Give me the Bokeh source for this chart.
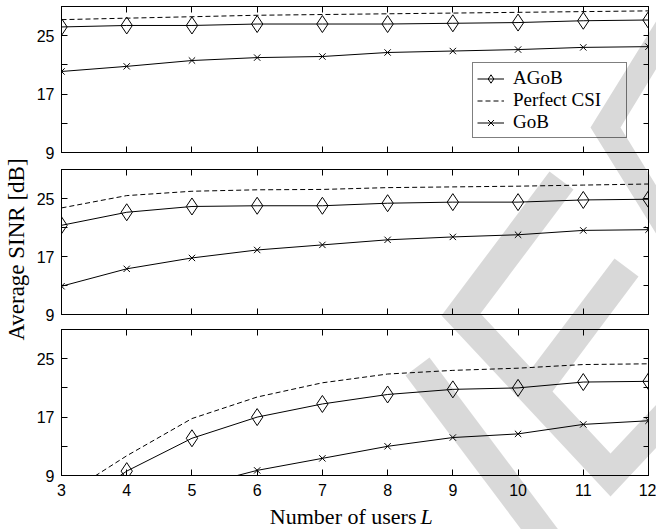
from math import pi

from bokeh.embed import file_html
from bokeh.models import (FixedTicker, GridBox, Label, Legend, LegendItem,
                          LinearAxis, PolyAnnotation, Range1d)
from bokeh.plotting import figure
from bokeh.resources import INLINE

# ---------------------------------------------------------------- data
users = [3, 4, 5, 6, 7, 8, 9, 10, 11, 12]

# top panel
agob_top = [26.2, 26.4, 26.4, 26.6, 26.6, 26.6, 26.7, 26.8, 27.05, 27.15]
csi_top = [27.2, 27.4, 27.6, 27.8, 27.9, 28.0, 28.1, 28.2, 28.3, 28.4]
gob_top = [20.1, 20.8, 21.6, 22.0, 22.15, 22.7, 22.9, 23.1, 23.4, 23.5]

# middle panel
agob_mid = [21.3, 23.1, 23.9, 24.0, 24.0, 24.35, 24.5, 24.5, 24.8, 24.9]
csi_mid = [23.7, 25.4, 26.0, 26.2, 26.25, 26.5, 26.6, 26.7, 26.85, 27.0]
gob_mid = [12.9, 15.3, 16.8, 17.9, 18.6, 19.3, 19.7, 20.0, 20.6, 20.7]

# bottom panel
agob_bot = [3.5, 9.6, 14.1, 17.0, 18.8, 20.1, 20.8, 21.0, 21.8, 21.9]
csi_bot = [6.0, 11.7, 16.8, 19.75, 21.7, 22.9, 23.4, 23.7, 24.2, 24.3]
gob_bot = [3.0, 5.0, 7.4, 9.7, 11.35, 13.0, 14.2, 14.7, 16.0, 16.5]

x_ticks = [3, 4, 5, 6, 7, 8, 9, 10, 11, 12]
y_ticks = [9, 13, 17, 21, 25, 29]
y_tick_labels = {9: "9", 13: "", 17: "17", 21: "", 25: "25", 29: ""}

series_names = ["AGoB", "Perfect CSI", "GoB"]
x_title = "Number of users"
x_title_var = "L"
y_title = "Average SINR [dB]"

# ---------------------------------------------------------------- styling
SANS = "Liberation Sans"
SERIF = "Liberation Serif"
PAGE_W, PAGE_H = 656, 529
SIDE_W = 30                       # strip holding the y title
PANEL_W = PAGE_W - SIDE_W
BORDER_L, BORDER_R = 61 - SIDE_W, 8
TITLE_H = 28                      # strip holding the x title
TITLE_TOP = 501                   # page row where that strip starts

# light grey diagonal strokes laid over the page (page pixel coordinates)
STROKES = [
    [(549, 171), (441, 315), (610, 496), (700, 400), (700, 357), (610, 453),
     (552, 391), (638, 276), (614, 258), (531, 368), (480, 313), (573, 189)],
    [(590, 127), (700, -51), (700, -4), (620, 127), (700, 257), (700, 305)],
    [(405, 375), (429, 357), (566, 540), (529, 540)],
]


def make_axis(ticks, labels, show, tick_len, standoff):
    ax = LinearAxis(
        ticker=FixedTicker(ticks=ticks),
        major_tick_in=tick_len, major_tick_out=0,
        minor_tick_in=0, minor_tick_out=0,
        axis_line_color="black", major_tick_line_color="black",
        major_label_text_font=SANS,
        major_label_text_font_size="16px" if show else "0px",
        major_label_text_color="black" if show else None,
        major_label_standoff=standoff if show else 0,
    )
    if labels is not None:
        ax.major_label_overrides = labels
    return ax


def blank_figure(w, h):
    f = figure(frame_width=w, frame_height=h,
               x_range=Range1d(0, w), y_range=Range1d(h, 0),
               x_axis_location=None, y_axis_location=None, title=None,
               output_backend="svg", toolbar_location=None,
               min_border=0, min_border_left=0, min_border_right=0,
               min_border_top=0, min_border_bottom=0)
    f.grid.visible = False
    f.outline_line_color = None
    return f


def make_panel(agob, csi, gob, top, frame_h, bottom, x_labels):
    p = figure(width=PANEL_W, height=top + frame_h + bottom,
               x_range=Range1d(3, 12), y_range=Range1d(9, 29),
               x_axis_location=None, y_axis_location=None, title=None,
               output_backend="svg", toolbar_location=None,
               min_border_left=BORDER_L, min_border_right=BORDER_R,
               min_border_top=top, min_border_bottom=bottom)
    p.grid.visible = False
    p.outline_line_color = "black"
    p.outline_line_width = 1
    p.background_fill_color = "white"
    p.border_fill_color = "white"

    p.add_layout(make_axis(y_ticks, y_tick_labels, True, 6, 7), "left")
    p.add_layout(make_axis(y_ticks, None, False, 5, 0), "right")
    p.add_layout(make_axis(x_ticks, None, x_labels, 6, 8), "below")
    p.add_layout(make_axis(x_ticks, None, False, 6, 0), "above")

    r_a = p.line(users, agob, line_color="black", line_width=1)
    r_am = p.scatter(users, agob, marker="diamond", size=17,
                     line_color="black", line_width=1, fill_alpha=0)
    r_c = p.line(users, csi, line_color="black", line_width=1,
                 line_dash="5 3")
    r_g = p.line(users, gob, line_color="black", line_width=1)
    r_gm = p.scatter(users, gob, marker="x", size=9,
                     line_color="black", line_width=1)
    return p, [[r_a, r_am], [r_c], [r_g, r_gm]]


p1, items = make_panel(agob_top, csi_top, gob_top, 6, 146, 9, False)
p2, _ = make_panel(agob_mid, csi_mid, gob_mid, 8, 145, 9, False)
p3, _ = make_panel(agob_bot, csi_bot, gob_bot, 6, 146, 26, True)

legend = Legend(
    items=[LegendItem(label=name, renderers=rs)
           for name, rs in zip(series_names, items)],
    location=(411, 14),
    label_text_font=SERIF, label_text_font_size="19px",
    label_text_color="black",
    glyph_width=27, glyph_height=21, label_height=21, label_width=109,
    label_standoff=9, padding=4, spacing=0, margin=0,
    border_line_color="black", border_line_width=1,
    background_fill_color="white", background_fill_alpha=1,
)
p1.add_layout(legend)

# y title strip on the left
side = blank_figure(SIDE_W, PAGE_H)
side.add_layout(Label(x=16, y=249, x_units="canvas", y_units="canvas",
                      text=y_title, angle=pi / 2, text_align="center",
                      text_baseline="middle", text_font=SERIF,
                      text_font_size="23px", text_color="black"))

# x title strip under the bottom panel: upright words, italic variable
foot = blank_figure(PANEL_W, TITLE_H)
title_mid = 516 - TITLE_TOP
foot.add_layout(Label(x=416 - SIDE_W, y=title_mid, x_units="canvas",
                      y_units="canvas", text=x_title, text_align="right",
                      text_baseline="middle", text_font=SERIF,
                      text_font_size="22px", text_color="black"))
foot.add_layout(Label(x=420 - SIDE_W, y=title_mid, x_units="canvas",
                      y_units="canvas", text=x_title_var, text_align="left",
                      text_baseline="middle", text_font_style="italic",
                      text_font=SERIF, text_font_size="22px",
                      text_color="black"))

# transparent sheet over the whole page carrying the grey strokes
sheet = blank_figure(PAGE_W, PAGE_H)
sheet.background_fill_alpha = 0
sheet.border_fill_alpha = 0
for shape in STROKES:
    sheet.add_layout(PolyAnnotation(
        xs=[x for x, _ in shape], ys=[y for _, y in shape],
        xs_units="canvas", ys_units="canvas",
        fill_color="black", fill_alpha=0.15, line_alpha=0, level="overlay"))

layout = GridBox(children=[(side, 0, 0, 4, 1),
                           (p1, 0, 1), (p2, 1, 1), (p3, 2, 1), (foot, 3, 1),
                           (sheet, 0, 0, 4, 2)], spacing=0)

open("out.html", "w").write(file_html(layout, INLINE))
